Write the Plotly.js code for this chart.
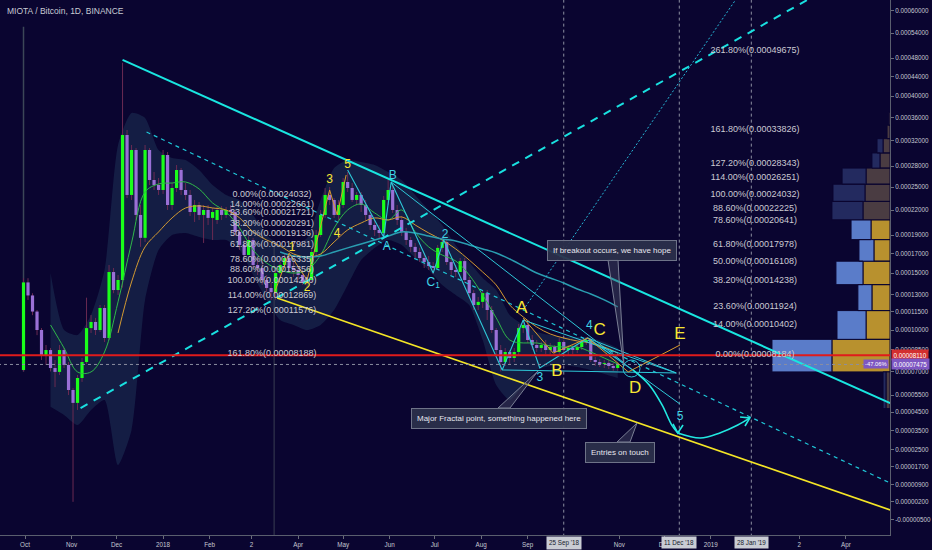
<!DOCTYPE html>
<html><head><meta charset="utf-8">
<script src="https://cdn.plot.ly/plotly-3.0.1.min.js"></script>
<style>html,body{margin:0;padding:0;background:#0a0530;}#chart{width:932px;height:550px;}</style>
</head><body><div id="chart"></div>
<script>
// ---- price scale: TradingView-like scale, log of (price + offset) ----
const OFF = 1e-4;      // offset used by the price scale
const SAT = 1e-8;      // values below are in satoshi

// ---- daily candles sampled every 3 days, starting 2017-09-30 ----
const candleStart = [2017, 8, 30];
const candleStepDays = 3;
const open = [7100,14100,12900,11500,10000,8130,8490,7230,6970,8490,
 7440,5810,5030,6570,7640,10150,10640,10000,11800,9380,
 15100,13390,14330,32940,23950,30490,21390,18700,30490,26000,
 25300,24620,29700,22640,24890,27440,24620,23950,21760,22640,
 21390,22010,21030,20780,22010,21390,22010,21760,19370,17910,
 16830,18460,15800,15500,14330,13580,13200,15000,15800,16520,
 15500,15300,14810,14140,14330,17150,19020,21390,23950,23290,
 21390,22640,25720,24890,23290,23950,22640,21390,20180,19600,
 19250,23290,24620,22010,20780,19370,18460,17700,17150,16520,
 16100,15700,15500,17590,18240,16100,15300,15100,16200,14330,
 13110,12060,12330,13110,11630,10000,8490,7640,8350,7920,
 8350,10150,10400,9230,8860,8640,8860,8490,8710,8350,
 9080,8490,8640,8490,8710,9080,9230,7780,7640,7510,
 7580,7370,7230];
const high = [14500,14500,13100,11630,10150,8860,8640,7780,8860,8640,
 7640,5940,6770,7920,12700,11210,10970,12060,12060,15800,
 15500,14810,47000,33790,31290,30800,22640,31290,30800,27150,
 26280,30490,30180,25580,28180,27740,25580,24620,23290,23030,
 22640,22640,22270,22390,22520,22390,22640,22010,19840,18460,
 18900,18700,16520,16100,14810,14050,15300,16100,17040,16940,
 16100,15700,15300,14810,17590,19600,22010,24890,25030,23550,
 23290,26280,27150,25580,24350,24350,23290,21760,20780,20180,
 23820,26000,25300,22640,21270,19840,18800,18130,17590,17040,
 16730,16100,17910,18800,18460,16520,15800,16520,16520,14620,
 13390,12760,13390,13390,11970,10150,8860,8640,8490,8640,
 10480,10800,10640,9610,9230,9080,9230,9010,8860,9380,
 9230,8860,8860,8930,9230,9450,9380,7990,7850,7780,
 7780,7580,7640];
const low = [7000,12500,11200,9600,7780,7440,7000,5990,6770,7230,
 5500,200,4620,6320,7510,9770,9610,9850,9080,9230,
 13100,12940,13600,23550,23290,20780,17700,18240,25300,24620,
 23950,24080,22010,22010,24350,23950,23290,21270,20540,20780,
 18130,20180,18460,20300,20780,21030,21270,18900,17370,16100,
 16830,15500,14810,13860,13200,12500,12500,14620,15500,15100,
 14620,14330,13860,13670,14050,16830,18800,21030,22640,21030,
 20780,22270,24350,23030,22640,21760,20780,19600,18900,18680,
 18900,22640,21640,20180,18900,17910,17150,16520,16100,15500,
 15300,14900,15300,17150,15800,14810,14620,15100,14050,12760,
 11630,11630,11800,10800,9770,8130,7000,7370,7510,7640,
 8130,9770,9010,8490,8350,8350,8200,8200,8060,8130,
 8200,8130,8200,8270,8490,8860,7640,7370,7300,7230,
 7170,7040,7040];
const close = [14100,12900,11500,10000,8130,8490,7230,6970,8490,7440,
 5810,5030,6570,7640,10150,10640,10000,11800,9380,15100,
 13390,14330,32940,23950,30490,21390,18700,30490,26000,25300,
 24620,29700,22640,24890,27440,24620,23950,21760,22640,21390,
 22010,21030,21760,22010,21390,22010,21760,19370,17910,16830,
 18460,15800,15500,14330,13580,13200,15000,15800,16520,15500,
 15300,14810,14140,14330,17150,19020,21390,23950,23290,21390,
 22640,25720,24890,23290,23950,22640,21390,20180,19600,19250,
 23290,24620,22010,20780,19370,18460,17700,17150,16520,16100,
 15700,15500,17590,18240,16100,15300,15100,16200,14330,13110,
 12060,12330,13110,11630,10000,8490,7640,8350,7920,8350,
 10150,10400,9230,8860,8640,8860,8490,8710,8350,9080,
 8490,8640,8490,8710,9080,9230,7780,7640,7510,7580,
 7370,7230,7475];

// ---- indicators (sampled every 9 days) ----
const maDates = ['2017-09-30','2017-10-09','2017-10-18','2017-10-27','2017-11-05','2017-11-14','2017-11-23','2017-12-02','2017-12-11','2017-12-20','2017-12-29','2018-01-07','2018-01-16','2018-01-25','2018-02-03','2018-02-12','2018-02-21','2018-03-02','2018-03-11','2018-03-20','2018-03-29','2018-04-07','2018-04-16','2018-04-25','2018-05-04','2018-05-13','2018-05-22','2018-05-31','2018-06-09','2018-06-18','2018-06-27','2018-07-06','2018-07-15','2018-07-24','2018-08-02','2018-08-11','2018-08-20','2018-08-29','2018-09-07','2018-09-16','2018-09-25','2018-10-04','2018-10-13','2018-10-22','2018-10-31'];
const greenMA = [null,null,10400,8640,6970,6970,8350,12330,18130,24350,25440,25580,25720,24760,22900,21760,19830,17370,16000,15300,15000,15300,16830,19830,22010,22770,21640,20780,22010,19370,17700,16830,16210,14810,12940,10970,9230,9010,9010,8790,8710,8710,8350,7920,7510];
const orangeMA = [null,null,null,null,null,null,null,9770,14140,17700,19370,21030,22260,22520,22260,22010,21030,19370,18460,17800,16940,16620,16940,18240,19600,20420,21030,20780,21150,20180,19250,18460,17480,16310,15100,13860,12060,11050,10240,9690,9380,9160,9010,8710,8270];
const tealMA = [null,null,null,null,null,null,null,null,null,null,null,null,null,null,null,null,null,null,null,17150,16730,16620,16730,17150,17590,18020,18460,18910,19370,19250,18910,18570,18350,17910,17480,17040,16410,15700,15000,14520,14050,13480,13030,12500,11890];
const bandUpper = [null,null,15000,10000,9610,11210,15300,31290,36800,35900,30490,29240,28930,27440,25300,23950,23290,21390,19020,17910,17910,18690,23290,27730,28930,28630,28180,27150,26000,23950,22010,20180,17910,16100,14520,13390,11210,10400,9850,9610,9460,9460,9380,9080,8640];
const bandLower = [null,null,4800,4330,3780,4620,5200,1780,3510,12500,17370,19020,19250,18800,18460,18460,17370,14810,12500,10800,10400,10000,10400,11630,13860,16310,17590,18460,17910,16520,15300,13860,12940,12060,9230,6120,5200,6120,7100,7370,7440,7300,7100,6840,6570];

// ---- volume profile (visible range), bins in satoshi ----
const vpEdges = [4700,6970,9280,11580,13890,16190,18500,20800,23100,25410,27720,30020,32330,34630,36940];
const vpGold  = [3.4,49.2,20.3,15.3,22.9,13.6,16.1,22.9,21.2,20.3,8.5,5.9,2.5,1.0];
const vpBlue  = [2.5,50.8,24.6,11.9,22.9,12.7,16.9,26.3,27.1,20.3,6.8,5.1,0,0];
const vpValueArea = [0,1,1,1,1,1,1,0,0,0,0,0,0,0];

// ---- drawings ----
const channelTop   = {d:['2017-12-05','2019-04-30 12:00'], p:[47630,5020]};
const channelDash  = {d:['2017-11-07','2019-03-30'], p:[4730,68820]};
const fineDash     = {d:['2017-12-21','2019-04-30 12:00'], p:[33450,980]};
const yellowLine   = {d:['2018-03-18','2019-04-30 12:00'], p:[12670,-121]};
const fineDot      = {d:['2018-08-29','2019-01-22'], p:[11630,65790]};
const impulseDates = ['2018-03-16','2018-03-26','2018-04-07','2018-04-22','2018-04-27','2018-05-03'];
const impulse      = [13070,17030,14330,24620,21390,26710];
const waveDates    = ['2018-05-04','2018-05-28','2018-06-02','2018-06-30','2018-07-07','2018-08-15','2018-08-29','2018-09-09','2018-10-11','2018-11-10'];
const wave         = [27440,18800,25720,15000,18460,7100,10800,7230,9380,7100];
const wedgeDates   = ['2018-06-02','2018-11-03 12:00',null,'2018-08-29','2018-12-09',null,'2018-08-15','2018-12-09',null,'2018-10-11','2018-12-09',null,'2018-11-10','2018-12-11 12:00'];
const wedge        = [25720,7640,null,10800,6900,null,7100,6900,null,9380,6900,null,7100,4960];
const abcdeDates   = ['2018-08-29','2018-09-18','2018-10-11','2018-11-07','2018-12-11 12:00'];
const abcde        = [10960,8270,9380,6970,8860];
const dropDates    = ['2018-11-10','2018-11-21','2018-11-29 12:00','2018-12-06','2018-12-10'];
const drop         = [7100,6120,4910,3780,3360];
const bounceDates  = ['2018-12-10','2018-12-25','2019-01-07','2019-01-19','2019-01-27'];
const bounce       = [3360,3100,3360,3780,4170];
const arrowDates   = ['2018-12-06 19:00','2018-12-10','2018-12-13 12:00',null,'2019-01-20 12:00','2019-01-27','2019-01-23 19:00'];
const arrows       = [3840,3360,3780,null,4220,4170,3730];
const markerLines  = ['2018-09-25','2018-12-11','2019-01-28'];
const redLevel = 8110, lastPrice = 7475;

// ---- labels ----
const yellowSmallTxt = ['1','2','3','4','5'];
const yellowSmallD = ['2018-03-28','2018-04-07','2018-04-22','2018-04-27','2018-05-04'];
const yellowSmallP = [17590,13580,26000,19130,28180];
const yellowBigTxt = ['A','B','C','D','E'];
const yellowBigD = ['2018-08-28','2018-09-20 12:00','2018-10-19','2018-11-11 12:00','2018-12-11 12:00'];
const yellowBigP = [11720,6970,9920,5870,9610];
const cyanTxt = ['B','A','C<sub>1</sub>','2','4','3','5'];
const cyanD = ['2018-06-03','2018-05-30','2018-06-30','2018-07-08','2018-10-12','2018-09-09','2018-12-11 12:00'];
const cyanP = [26570,17700,14050,19020,10320,6570,4220];

const fibLeftPct = ['0.00%','14.00%','23.60%','38.20%','50.00%','61.80%','78.60%','88.60%','100.00%','114.00%','127.20%','161.80%'];
const fibLeftVal = [0.00024032,0.00022661,0.00021721,0.00020291,0.00019136,0.00017981,0.00016335,0.00015356,0.00014240,0.00012869,0.00011576,0.00008188];
const fibRightPct = ['261.80%','161.80%','127.20%','114.00%','100.00%','88.60%','78.60%','61.80%','50.00%','38.20%','23.60%','14.00%','0.00%'];
const fibRightVal = [0.00049675,0.00033826,0.00028343,0.00026251,0.00024032,0.00022225,0.00020641,0.00017978,0.00016108,0.00014238,0.00011924,0.00010402,0.00008184];

const yTickValues = [0.0006,0.00054,0.00048,0.00044,0.0004,0.00036,0.00032,0.00028,0.00025,0.00022,0.00019,0.00017,0.00015,0.00013,0.000115,0.0001,0.000085,0.00007,0.000055,0.000045,0.000035,0.000025,0.000017,0.000009,0.000002,-0.000005];
const xTickDates = ['2017-10-01','2017-11-01','2017-12-01','2018-01-01','2018-02-01','2018-03-01','2018-04-01','2018-05-01','2018-06-01','2018-07-01','2018-08-01','2018-09-01','2018-11-01','2018-12-01','2019-01-01','2019-03-01','2019-04-01'];
const xTickText  = ['Oct','Nov','Dec','2018','Feb','2','Apr','May','Jun','Jul','Aug','Sep','Nov','Dec','2019','2','Apr'];

// ================= build =================
const P = s => (s === null || s === undefined) ? null : s * SAT + OFF;
const PV = v => v + OFF;
const candleDates = open.map((_, i) => {
  const d = new Date(Date.UTC(candleStart[0], candleStart[1], candleStart[2]));
  d.setUTCDate(d.getUTCDate() + candleStepDays * i);
  return d.toISOString().slice(0, 10);
});

const BG = '#0a0530';
const FONT = 'Liberation Sans, Arial, sans-serif';
const traces = [];
const line = (x, y, color, width, dash, extra) => Object.assign({
  type:'scatter', mode:'lines', x:x, y:y.map(P), xaxis:'x2', yaxis:'y',
  line:{color:color, width:width, dash:dash||'solid'}, hoverinfo:'skip'}, extra||{});

// volume profile on base x axis (drawn underneath)
function vpTrace(part, bright, color) {
  const xs = [], ys = [];
  vpEdges.slice(0, -1).forEach((lo, i) => {
    if ((vpValueArea[i] === 1) !== bright) return;
    const a = part === 'gold' ? 0 : vpGold[i];
    const b = part === 'gold' ? vpGold[i] : vpGold[i] + vpBlue[i];
    if (b - a <= 0) return;
    const hi = vpEdges[i + 1];
    xs.push(a, b, b, a, a, null);
    ys.push(P(lo), P(lo), P(hi), P(hi), P(lo), null);
  });
  return {type:'scatter', mode:'lines', x:xs, y:ys, xaxis:'x', yaxis:'y', fill:'toself',
    fillcolor:color, line:{color:BG, width:1}, hoverinfo:'skip'};
}
traces.push(vpTrace('gold', true, '#b8912e'));
traces.push(vpTrace('blue', true, '#5a7cc9'));
traces.push(vpTrace('gold', false, '#4a3c42'));
traces.push(vpTrace('blue', false, '#232a5f'));

// band
const bd = [], bu = [], bl = [];
maDates.forEach((d, i) => { if (bandUpper[i] !== null && bandLower[i] !== null) { bd.push(d); bu.push(bandUpper[i]); bl.push(bandLower[i]); }});
traces.push(line(bd, bu, 'rgba(0,0,0,0)', 0, 'solid', {line:{width:0, shape:'spline', smoothing:0.6}}));
traces.push(line(bd, bl, 'rgba(0,0,0,0)', 0, 'solid', {fill:'tonexty', fillcolor:'rgba(40,72,105,0.36)', line:{width:0, shape:'spline', smoothing:0.6}}));

// vertical marker lines
markerLines.forEach(d => traces.push(line([d, d], [-1100, 70000], '#8c8fa0', 1, 'dot')));
traces.push(line(['2018-03-16','2018-03-16'], [17910, -1100], '#3a3f52', 1));
traces.push(line([candleDates[0], candleDates[0]], [7000, 55600], '#3c4757', 1.5));

// wicks
const wx = [], wy = [];
candleDates.forEach((d, i) => { wx.push(d, d, null); wy.push(high[i], low[i], null); });
traces.push(line(wx, wy, '#6a2a52', 1));
// bodies (open -> close segments, coloured by direction)
const upX = [], upY = [], dnX = [], dnY = [];
candleDates.forEach((d, i) => {
  if (close[i] >= open[i]) { upX.push(d, d, null); upY.push(open[i], close[i], null); }
  else { dnX.push(d, d, null); dnY.push(open[i], close[i], null); }
});
traces.push(line(dnX, dnY, '#9a70d6', 3.2));
traces.push(line(upX, upY, '#1aff1a', 3.2));

// moving averages
traces.push(line(maDates, greenMA, '#2fb84a', 1, 'solid', {line:{color:'#2fb84a', width:1, shape:'spline'}}));
traces.push(line(maDates, orangeMA, '#d39a32', 1, 'solid', {line:{color:'#d39a32', width:1, shape:'spline'}}));
traces.push(line(maDates, tealMA, '#2a9db0', 1.5, 'solid', {line:{color:'#2a9db0', width:1.5, shape:'spline'}}));

// trend lines
traces.push(line(channelDash.d, channelDash.p, '#19e0e0', 2, '8px,7px'));
traces.push(line(fineDash.d, fineDash.p, '#1fc8d8', 1.2, '4px,4px'));
traces.push(line(fineDot.d, fineDot.p, '#27b8d8', 1, '2px,2px'));
traces.push(line(yellowLine.d, yellowLine.p, '#f4e526', 1.6));
traces.push(line(channelTop.d, channelTop.p, '#19e6e0', 2));

// wave drawings
traces.push(line(impulseDates, impulse, '#d99a2c', 1));
traces.push(line(wedgeDates, wedge, '#2ec8d8', 1));
traces.push(line(waveDates, wave, '#2ec8d8', 1.1));
traces.push(line(abcdeDates, abcde, '#d99a2c', 1));
traces.push(line(dropDates, drop, '#22e8e0', 1.6, 'solid', {line:{color:'#22e8e0', width:1.6, shape:'spline'}}));
traces.push(line(bounceDates, bounce, '#22e8e0', 1.6, 'solid', {line:{color:'#22e8e0', width:1.6, shape:'spline'}}));
traces.push(line(arrowDates, arrows, '#22e8e0', 1.6));

// horizontal levels (on top)
traces.push({type:'scatter', mode:'lines', x:['2017-09-01','2019-06-01'], y:[lastPrice,lastPrice].map(P), xaxis:'x2', yaxis:'y', line:{color:'#8c8fa0', width:1, dash:'dot'}, hoverinfo:'skip'});
traces.push({type:'scatter', mode:'lines', x:['2017-09-01','2019-06-01'], y:[redLevel,redLevel].map(P), xaxis:'x2', yaxis:'y', line:{color:'#e01b1b', width:2}, hoverinfo:'skip'});

// text labels
const txt = (x, y, t, color, size) => ({type:'scatter', mode:'text', x:x, y:y, text:t, xaxis:'x2', yaxis:'y',
  textposition:'middle center', textfont:{color:color, size:size, family:FONT}, hoverinfo:'skip', cliponaxis:false});
traces.push(txt(fibLeftVal.map(() => '2018-03-14 14:00'), fibLeftVal.map(PV), fibLeftPct.map((p, i) => p + '(' + fibLeftVal[i].toFixed(8) + ')'), '#cacad2', 9));
traces.push(txt(fibRightVal.map(() => '2019-01-30 12:00'), fibRightVal.map(PV), fibRightPct.map((p, i) => p + '(' + fibRightVal[i].toFixed(8) + ')'), '#cacad2', 9));
traces.push(txt(yellowSmallD, yellowSmallP.map(P), yellowSmallTxt, '#f7e733', 12));
traces.push(txt(yellowBigD, yellowBigP.map(P), yellowBigTxt, '#f7e733', 17));
traces.push(txt(cyanD, cyanP.map(P), cyanTxt, '#3fd6e6', 12));

const ylog = s => Math.log10(P(s));
const W = 890, H = 535;
const px = x => x / W, py = y => 1 - y / H;
const callout = (cx, cy, text) => ({xref:'paper', yref:'paper', x:px(cx), y:py(cy), xanchor:'center', yanchor:'middle',
  text:text, showarrow:false,
  bgcolor:'rgba(44,48,74,0.94)', bordercolor:'#6e7388', borderwidth:1, borderpad:5, font:{size:8, color:'#e6e6ee', family:FONT}});
const dateBox = (d, t) => ({xref:'x2', yref:'paper', x:d, y:-0.0145, xanchor:'center', yanchor:'middle', text:t, showarrow:false,
  bgcolor:'#c9ccd4', borderpad:2, font:{size:6.3, color:'#161a2a', family:FONT}});
const tri = (a, b, c) => ({type:'path', xref:'paper', yref:'paper',
  path:`M${px(a[0])},${py(a[1])} L${px(b[0])},${py(b[1])} L${px(c[0])},${py(c[1])} Z`,
  fillcolor:'rgba(70,76,100,0.45)', line:{color:'#7a7f95', width:1}});

const layout = {
  width:932, height:550, paper_bgcolor:BG, plot_bgcolor:BG, showlegend:false, hovermode:false,
  margin:{l:0, r:42, t:0, b:15, pad:0},
  font:{family:FONT, color:'#c5c8d0', size:6.3},
  xaxis:{range:[754, 0], visible:false, fixedrange:true, anchor:'y'},
  xaxis2:{type:'date', overlaying:'x', anchor:'y', side:'bottom', range:['2017-09-14 08:00','2019-04-30 10:00'],
    tickvals:xTickDates, ticktext:xTickText, tickfont:{size:6.3, color:'#c5c8d0'}, ticks:'outside', ticklen:3,
    tickcolor:'#6a6d7a', showgrid:false, zeroline:false, showline:true, linecolor:'#5a5e6e', linewidth:1,
    rangeslider:{visible:false}, automargin:false, fixedrange:true},
  yaxis:{type:'log', side:'right', range:[Math.log10(8.9569e-5), Math.log10(72.88e-5)],
    tickvals:yTickValues.map(PV), ticktext:yTickValues.map(v => v.toFixed(8)), tickfont:{size:6.3, color:'#c5c8d0'},
    ticks:'outside', ticklen:3, tickcolor:'#6a6d7a', showgrid:false, zeroline:false, showline:true,
    linecolor:'#5a5e6e', linewidth:1, automargin:false, fixedrange:true},
  shapes:[
    tri([608,260],[618,260],[624,366]),
    tri([498,408],[510,408],[538,371]),
    tri([617,442],[630,442],[637,423]),
    {type:'circle', xref:'paper', yref:'paper', x0:px(623), x1:px(640), y0:py(377), y1:py(360), line:{color:'#2ec8d8', width:1}}
  ],
  annotations:[
    {xref:'paper', yref:'paper', x:0.0056, y:py(11), xanchor:'left', yanchor:'middle', showarrow:false,
      text:'MIOTA / Bitcoin, 1D, BINANCE', font:{size:8.5, color:'#c8cbd4', family:FONT}},
    callout(611.5, 250, 'If breakout occurs, we have hope'),
    callout(498.5, 418, 'Major Fractal point, something happened here'),
    callout(619.5, 452.5, 'Entries on touch'),
    dateBox('2018-09-25', "25 Sep '18"),
    dateBox('2018-12-11', "11 Dec '18"),
    dateBox('2019-01-28', "28 Jan '19"),
    {xref:'paper', yref:'y', x:1, xanchor:'left', xshift:1, y:ylog(redLevel), yanchor:'middle', showarrow:false,
      text:(redLevel*SAT).toFixed(8), bgcolor:'#d32f2f', borderpad:1.5, font:{size:6.3, color:'#ffffff', family:FONT}},
    {xref:'paper', yref:'y', x:1, xanchor:'left', xshift:1, y:ylog(lastPrice), yanchor:'middle', showarrow:false,
      text:(lastPrice*SAT).toFixed(8), bgcolor:'#7e57c2', borderpad:1.5, font:{size:6.3, color:'#ffffff', family:FONT}},
    {xref:'paper', yref:'y', x:1, xanchor:'right', xshift:-1, y:ylog(lastPrice), yanchor:'middle', showarrow:false,
      text:'-47.06%', bgcolor:'#7e57c2', borderpad:1, font:{size:5.8, color:'#ffffff', family:FONT}}
  ]
};
Plotly.newPlot('chart', traces, layout, {staticPlot:true, displayModeBar:false});
</script></body></html>
